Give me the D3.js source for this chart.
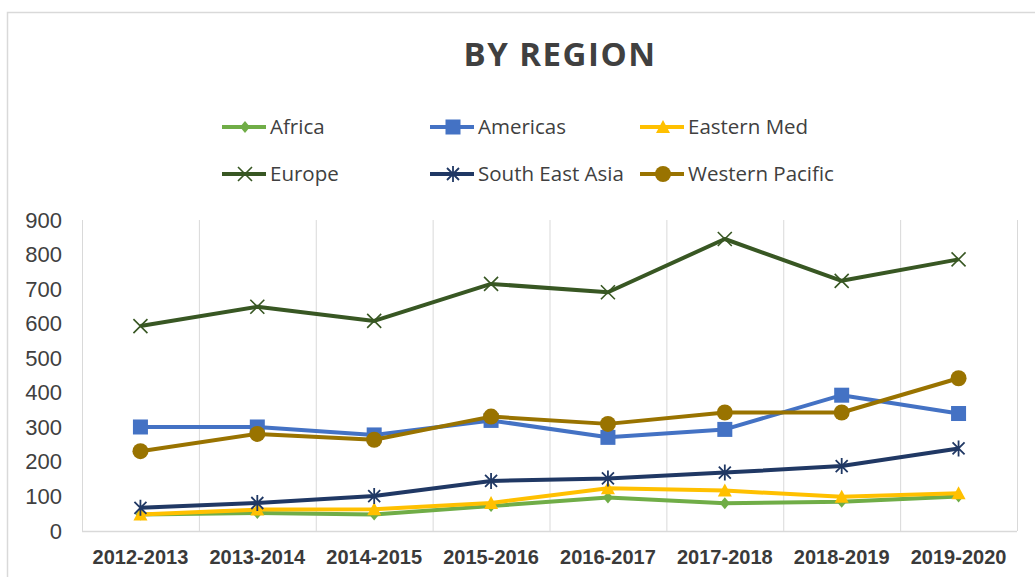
<!DOCTYPE html>
<html>
<head>
<meta charset="utf-8">
<script src="https://cdn.jsdelivr.net/npm/d3@7"></script>
<style>
  body { margin: 0; background: #fff; }
  svg { display: block; }
</style>
</head>
<body>
<div id="chart"></div>
<script>
// Data
const years = ["2012-2013", "2013-2014", "2014-2015", "2015-2016", "2016-2017", "2017-2018", "2018-2019", "2019-2020"];
const regions = ["Africa", "Americas", "Eastern Med", "Europe", "South East Asia", "Western Pacific"];
const africa = [48, 52, 48, 72, 97, 80, 85, 100];
const americas = [301, 301, 278, 320, 271, 294, 393, 340];
const easternMed = [48, 62, 63, 81, 124, 117, 99, 109];
const europe = [593, 649, 608, 715, 691, 845, 724, 786];
const southEastAsia = [67, 81, 101, 145, 152, 169, 188, 239];
const westernPacific = [231, 281, 264, 331, 310, 343, 343, 442];
const yTicks = [0, 100, 200, 300, 400, 500, 600, 700, 800, 900];

const colors = ["#70AD47", "#4472C4", "#FFC000", "#385723", "#203864", "#997300"];
const markers = ["diamond", "square", "triangle", "x", "asterisk", "circle"];
const values = [africa, americas, easternMed, europe, southEastAsia, westernPacific];

const series = regions.map((name, i) => ({ name, color: colors[i], marker: markers[i], values: values[i] }));

const W = 1035, H = 577;
const margin = { top: 220, right: 18, bottom: 46, left: 82 };

const svg = d3.select("#chart").append("svg")
    .attr("width", W)
    .attr("height", H);

// chart frame (only top and left edges are visible in the picture)
svg.append("rect")
    .attr("x", 7.5).attr("y", 12.5)
    .attr("width", 1100).attr("height", 700)
    .attr("fill", "none")
    .attr("stroke", "#d9d9d9")
    .attr("stroke-width", 1.5);

const x = d3.scaleBand()
    .domain(years)
    .range([margin.left, W - margin.right])
    .padding(0);

const y = d3.scaleLinear()
    .domain([0, 900])
    .range([H - margin.bottom, margin.top]);

// vertical gridlines at the category boundaries
const bounds = years.map(d => x(d)).concat([x.range()[1]]);
svg.append("g")
    .selectAll("line")
    .data(bounds)
    .join("line")
    .attr("x1", d => d + 0.5).attr("x2", d => d + 0.5)
    .attr("y1", y(900)).attr("y2", y(0))
    .attr("stroke", "#d9d9d9")
    .attr("stroke-width", 1);

// baseline
svg.append("line")
    .attr("x1", margin.left).attr("x2", W - margin.right)
    .attr("y1", y(0) + 0.5).attr("y2", y(0) + 0.5)
    .attr("stroke", "#d9d9d9")
    .attr("stroke-width", 1.5);

// y axis
const yAxis = svg.append("g")
    .attr("transform", `translate(${margin.left},0)`)
    .call(d3.axisLeft(y).tickValues(yTicks).tickSize(0).tickPadding(20));
yAxis.select(".domain").remove();
yAxis.selectAll("text")
    .attr("font-family", "'Liberation Sans', Arial, sans-serif")
    .attr("font-size", 22)
    .attr("fill", "#404040");

// x axis
const xAxis = svg.append("g")
    .attr("transform", `translate(0,${y(0)})`)
    .call(d3.axisBottom(x).tickSize(0).tickPadding(19));
xAxis.select(".domain").remove();
xAxis.selectAll("text")
    .attr("font-family", "'Liberation Sans', Arial, sans-serif")
    .attr("font-size", 20)
    .attr("font-weight", "bold")
    .attr("fill", "#3a3a3a");

// marker shapes
function drawMarker(g, type, color) {
  if (type === "diamond") {
    g.append("path").attr("d", "M0,-6L5,0L0,6L-5,0Z").attr("fill", color);
  } else if (type === "square") {
    g.append("rect").attr("x", -7.5).attr("y", -7.5).attr("width", 15).attr("height", 15).attr("fill", color);
  } else if (type === "triangle") {
    g.append("path").attr("d", "M0,-7L7,6L-7,6Z").attr("fill", color);
  } else if (type === "circle") {
    g.append("circle").attr("r", 8).attr("fill", color);
  } else if (type === "x") {
    g.append("path").attr("d", "M-7,-7L7,7M-7,7L7,-7")
      .attr("stroke", color).attr("stroke-width", 1.6).attr("fill", "none");
  } else if (type === "asterisk") {
    g.append("path").attr("d", "M-6,-6L6,6M-6,6L6,-6M0,-8L0,8")
      .attr("stroke", color).attr("stroke-width", 1.8).attr("fill", "none");
  }
}

const line = d3.line()
    .x((d, i) => x(years[i]) + x.bandwidth() / 2)
    .y(d => y(d));

// draw series
series.forEach(s => {
  svg.append("path")
      .datum(s.values)
      .attr("fill", "none")
      .attr("stroke", s.color)
      .attr("stroke-width", 4)
      .attr("stroke-linejoin", "round")
      .attr("d", line);

  svg.append("g")
      .selectAll("g")
      .data(s.values)
      .join("g")
      .attr("transform", (d, i) => `translate(${x(years[i]) + x.bandwidth() / 2},${y(d)})`)
      .each(function () { drawMarker(d3.select(this), s.marker, s.color); });
});

// title
svg.append("text")
    .attr("x", 560).attr("y", 66)
    .attr("text-anchor", "middle")
    .attr("font-family", "'Open Sans', sans-serif")
    .attr("font-size", 33)
    .attr("font-weight", "bold")
    .attr("letter-spacing", 1.5)
    .attr("fill", "#404040")
    .text("BY REGION");

// legend: 3 columns x 2 rows
const legendCols = [222, 430, 640];
const legendRows = [127, 174];
const legend = svg.append("g")
    .selectAll("g")
    .data(series)
    .join("g")
    .attr("transform", (d, i) => `translate(${legendCols[i % 3]},${legendRows[Math.floor(i / 3)]})`);

legend.append("line")
    .attr("x1", 0).attr("x2", 44)
    .attr("stroke", d => d.color)
    .attr("stroke-width", 4);

legend.append("g")
    .attr("transform", "translate(23,0)")
    .each(function (d) { drawMarker(d3.select(this), d.marker, d.color); });

legend.append("text")
    .attr("x", 48)
    .attr("dy", "0.35em")
    .attr("font-family", "'Open Sans', sans-serif")
    .attr("font-size", 20.5)
    .attr("fill", "#404040")
    .text(d => d.name);
</script>
</body>
</html>
